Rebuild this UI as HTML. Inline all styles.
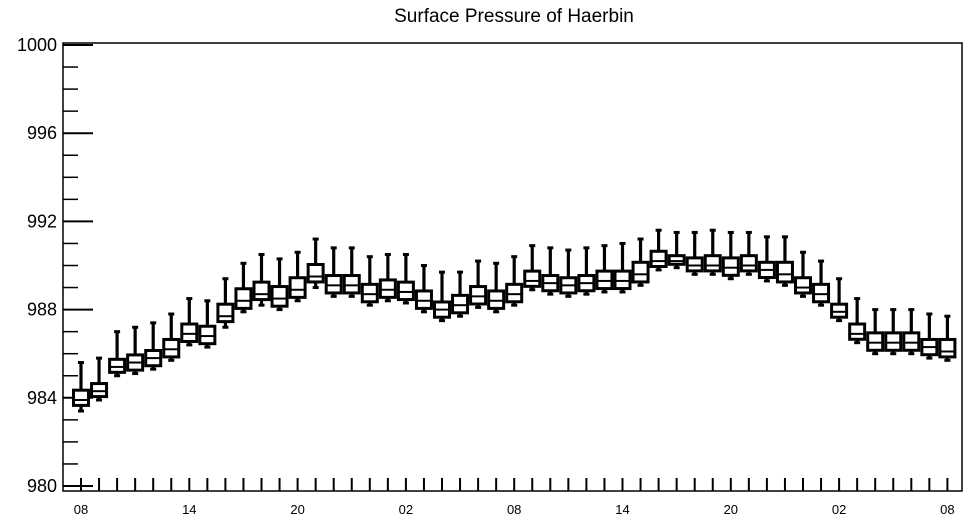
<!DOCTYPE html>
<html><head><meta charset="utf-8"><style>
body{margin:0;background:#fff;}
svg{display:block;font-family:"Liberation Sans",sans-serif;}
</style></head><body>
<svg id="chart" width="968" height="522" viewBox="0 0 968 522">
<text x="514" y="22" text-anchor="middle" font-size="19">Surface Pressure of Haerbin</text>
<g id="axes"></g><g id="boxes"></g>
</svg>
<script>
const hourLabels=["08","09","10","11","12","13","14","15","16","17","18","19","20","21","22","23","00","01","02","03","04","05","06","07","08","09","10","11","12","13","14","15","16","17","18","19","20","21","22","23","00","01","02","03","04","05","06","07","08"];
const medians=[983.9,984.3,985.4,985.6,985.8,986.2,986.9,986.8,987.7,988.4,988.7,988.5,988.9,989.5,989.1,989.1,988.7,988.9,988.8,988.4,988.0,988.2,988.6,988.4,988.7,989.3,989.2,989.1,989.2,989.3,989.3,989.6,990.2,990.2,990.0,990.0,989.9,990.0,989.8,989.6,989.0,988.7,987.9,986.9,986.5,986.5,986.5,986.3,986.1];
const q1=[983.7,984.1,985.2,985.3,985.5,985.9,986.6,986.5,987.5,988.1,988.5,988.2,988.6,989.3,988.8,988.8,988.4,988.6,988.5,988.1,987.7,987.9,988.3,988.1,988.4,989.1,988.9,988.8,988.9,989.0,989.0,989.3,990.0,990.1,989.8,989.8,989.6,989.8,989.5,989.3,988.8,988.4,987.7,986.7,986.2,986.2,986.2,986.0,985.9];
const q3=[984.3,984.6,985.7,985.9,986.1,986.6,987.3,987.2,988.2,988.9,989.2,989.0,989.4,990.0,989.5,989.5,989.1,989.3,989.2,988.8,988.3,988.6,989.0,988.8,989.1,989.7,989.5,989.4,989.5,989.7,989.7,990.1,990.6,990.4,990.3,990.4,990.3,990.4,990.1,990.1,989.4,989.1,988.2,987.3,986.9,986.9,986.9,986.6,986.6];
const whiskLo=[983.4,983.9,985.0,985.1,985.3,985.7,986.4,986.3,987.2,987.9,988.2,988.0,988.4,989.0,988.6,988.6,988.2,988.4,988.3,987.9,987.5,987.7,988.1,987.9,988.2,988.9,988.7,988.6,988.7,988.8,988.8,989.1,989.8,989.9,989.6,989.6,989.4,989.6,989.3,989.1,988.6,988.2,987.5,986.5,986.0,986.0,986.0,985.8,985.7];
const whiskHi=[985.6,985.8,987.0,987.2,987.4,987.8,988.5,988.4,989.4,990.1,990.5,990.3,990.6,991.2,990.8,990.8,990.4,990.5,990.5,990.0,989.7,989.7,990.2,990.1,990.4,990.9,990.8,990.7,990.8,990.9,991.0,991.2,991.6,991.5,991.5,991.6,991.5,991.5,991.3,991.3,990.6,990.2,989.4,988.5,988.0,988.0,988.0,987.8,987.7];
const yTicks=[980,984,988,992,996,1000];
const xLabelIdx=[0,6,12,18,24,30,36,42,48];

const L=63,R=962,T=43,B=491;
const yS=v=>486-(v-980)*22.05;
const xS=i=>81+i*18.05;
const NS="http://www.w3.org/2000/svg";
function mk(tag,attrs,parent){const e=document.createElementNS(NS,tag);for(const k in attrs)e.setAttribute(k,attrs[k]);parent.appendChild(e);return e;}
const ax=document.getElementById('axes'),bx=document.getElementById('boxes');
let f=mk('rect',{x:L,y:T,width:R-L,height:B-T,fill:'none',stroke:'#000','stroke-width':1.5},ax);


for(let v=980;v<=1000;v+=1){
  const major=(v%4===0);
  const t=mk('line',{x1:L,x2:L+(major?30:15),y1:yS(v),y2:yS(v),stroke:'#000','stroke-width':major?2:1.5},ax);
  
  
}
yTicks.forEach(v=>{
  const t=mk('text',{x:L-6,y:yS(v)+6,'text-anchor':'end','font-size':18},ax);t.textContent=v;
  
  
});
hourLabels.forEach((h,i)=>{
  const t=mk('line',{x1:xS(i),x2:xS(i),y1:B,y2:B-13,stroke:'#000','stroke-width':2},ax);
  
  
});
xLabelIdx.forEach(i=>{
  const t=mk('text',{x:xS(i),y:514,'text-anchor':'middle','font-size':13},ax);t.textContent=hourLabels[i];
  
  
});
medians.forEach((m,i)=>{
  const g=mk('g',{},bx);
  
  
  const x=xS(i),w=15;
  mk('line',{x1:x,x2:x,y1:yS(whiskHi[i]),y2:yS(q3[i]),stroke:'#000','stroke-width':3.2},g);
  mk('line',{x1:x-3,x2:x+3,y1:yS(whiskHi[i]),y2:yS(whiskHi[i]),stroke:'#000','stroke-width':3},g);
  mk('line',{x1:x,x2:x,y1:yS(q1[i]),y2:yS(whiskLo[i]),stroke:'#000','stroke-width':3.2},g);
  mk('line',{x1:x-3,x2:x+3,y1:yS(whiskLo[i]),y2:yS(whiskLo[i]),stroke:'#000','stroke-width':3},g);
  mk('rect',{x:x-w/2,y:yS(q3[i])-1,width:w,height:yS(q1[i])-yS(q3[i])+2,fill:'#fff',stroke:'#000','stroke-width':3},g);
  mk('line',{x1:x-w/2,x2:x+w/2,y1:yS(m),y2:yS(m),stroke:'#000','stroke-width':2},g);
});
</script>
</body></html>
